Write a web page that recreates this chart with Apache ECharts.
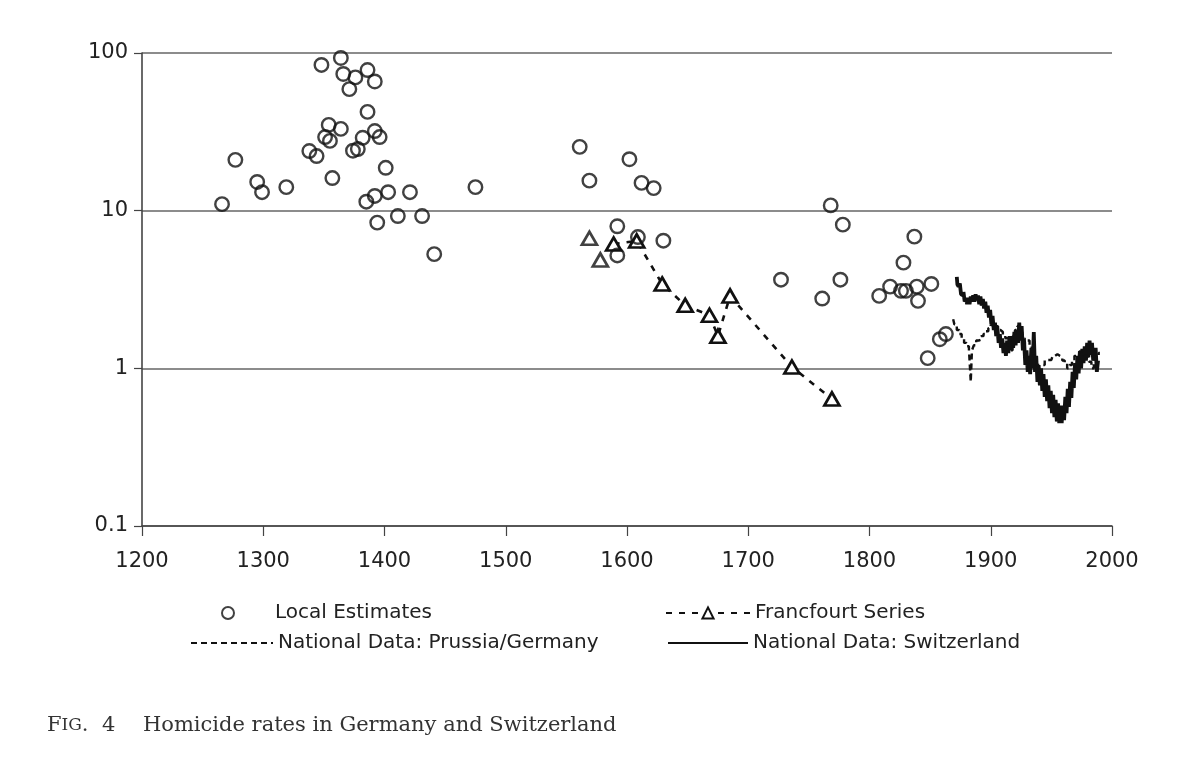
<!DOCTYPE html>
<html>
<head>
<meta charset="utf-8">
<script src="https://cdn.jsdelivr.net/npm/echarts@6/dist/echarts.min.js"></script>
<style>
  html, body { margin: 0; padding: 0; background: #fff; }
  #main { width: 1200px; height: 779px; }
</style>
</head>
<body>
<div id="main"></div>
<script>
// local estimates (year, homicides per 100,000)
var localYears = [1266, 1277, 1295, 1299, 1319, 1338, 1344, 1348, 1351, 1354, 1355, 1357, 1364, 1364, 1366, 1371,
  1374, 1376, 1378, 1382, 1385, 1386, 1386, 1392, 1392, 1392, 1394, 1396, 1401, 1403, 1411, 1421, 1431, 1441, 1475,
  1561, 1569, 1592, 1592, 1602, 1609, 1612, 1622, 1630, 1727, 1761, 1768, 1776, 1778,
  1808, 1817, 1826, 1828, 1830, 1837, 1839, 1840, 1848, 1851, 1858, 1863];
var localRates = [11.0, 21, 15.2, 13.1, 14.1, 23.9, 22.2, 84, 29.3, 35, 27.7, 16.1, 93, 33, 73.6, 59,
  24, 70, 24.6, 29, 11.4, 42.3, 78, 66, 32, 12.4, 8.4, 29.3, 18.7, 13.1, 9.25, 13.1, 9.25, 5.3, 14.1,
  25.4, 15.5, 7.96, 5.2, 21.2, 6.8, 15, 13.9, 6.45, 3.65, 2.77, 10.8, 3.65, 8.15,
  2.88, 3.3, 3.1, 4.68, 3.1, 6.84, 3.3, 2.68, 1.16, 3.43, 1.53, 1.65];

// Francfourt series: first two points stand alone, the rest are joined
var frankLooseYears = [1569, 1578];
var frankLooseRates = [6.68, 4.87];
var frankYears = [1589, 1608, 1629, 1648, 1668, 1675, 1685, 1736, 1769];
var frankRates = [6.15, 6.43, 3.43, 2.51, 2.17, 1.6, 2.88, 1.02, 0.64];

// national data
var swissYears = [1872, 1873, 1874, 1875, 1876, 1877, 1878, 1879, 1880, 1881, 1882, 1883, 1884, 1885, 1886, 1887,
  1888, 1889, 1890, 1891, 1892, 1893, 1894, 1895, 1896, 1897, 1898, 1899, 1900, 1901, 1902, 1903, 1904, 1905,
  1906, 1907, 1908, 1909, 1910, 1911, 1912, 1913, 1914, 1915, 1916, 1917, 1918, 1919, 1920, 1921, 1922, 1923,
  1924, 1925, 1926, 1927, 1928, 1929, 1930, 1931, 1932, 1933, 1934, 1935, 1936, 1937, 1938, 1939, 1940, 1941,
  1942, 1943, 1944, 1945, 1946, 1947, 1948, 1949, 1950, 1951, 1952, 1953, 1954, 1955, 1956, 1957, 1958, 1959,
  1960, 1961, 1962, 1963, 1964, 1965, 1966, 1967, 1968, 1969, 1970, 1971, 1972, 1973, 1974, 1975, 1976, 1977,
  1978, 1979, 1980, 1981, 1982, 1983, 1984, 1985, 1986, 1987, 1988, 1989];
var swissRates = [3.8, 3.4, 3.3, 3.45, 2.95, 2.9, 3.05, 2.65, 2.8, 2.55, 2.8, 2.55, 2.85, 2.65, 2.9, 2.65,
  2.95, 2.7, 2.9, 2.55, 2.85, 2.5, 2.75, 2.4, 2.65, 2.25, 2.5, 2.1, 2.35, 1.9, 2.15, 1.75, 1.95, 1.6,
  1.8, 1.45, 1.65, 1.35, 1.55, 1.25, 1.45, 1.2, 1.5, 1.25, 1.6, 1.3, 1.6, 1.35, 1.7, 1.4, 1.75, 1.45,
  1.95, 1.5, 1.85, 1.3, 1.5, 1.05, 1.3, 0.95, 1.2, 0.92, 1.35, 1.0, 1.7, 0.95, 1.2, 0.82, 1.05, 0.78,
  1.0, 0.72, 0.92, 0.66, 0.85, 0.62, 0.78, 0.56, 0.72, 0.52, 0.68, 0.49, 0.63, 0.46, 0.6, 0.45, 0.58, 0.45,
  0.58, 0.47, 0.66, 0.52, 0.74, 0.57, 0.82, 0.65, 0.95, 0.75, 1.08, 0.85, 1.2, 0.93, 1.28, 1.0, 1.33, 1.08,
  1.38, 1.12, 1.45, 1.18, 1.5, 1.22, 1.45, 1.12, 1.22, 1.35, 0.95, 1.12];

var germanYears = [1869, 1871, 1873, 1875, 1877, 1879, 1881, 1883, 1884, 1885, 1887, 1889, 1891, 1893, 1895, 1897,
  1899, 1901, 1903, 1905, 1907, 1909, 1911, 1913, 1915, 1917, 1919, 1921, 1923, 1925, 1927, 1929, 1931, 1933,
  1935, 1937, 1939, 1950, 1952, 1954, 1956, 1958, 1960, 1962, 1964, 1966, 1968, 1970, 1972, 1974, 1976, 1978,
  1980, 1982, 1984, 1986, 1988, 1990];
var germanRates = [2.05, 1.9, 1.75, 1.65, 1.55, 1.45, 1.38, 1.32, 0.82, 1.3, 1.4, 1.5, 1.52, 1.6, 1.65, 1.72,
  1.8, 1.88, 1.95, 1.85, 1.75, 1.7, 1.62, 1.55, 1.4, 1.3, 1.6, 1.75, 1.85, 1.7, 1.55, 1.45, 1.5, 1.35,
  1.2, 1.1, 1.05, 1.13, 1.2, 1.23, 1.2, 1.18, 1.12, 1.08, 1.0, 1.05, 1.12, 1.2, 1.23, 1.28, 1.25, 1.2,
  1.18, 1.1, 1.0, 1.1, 1.2, 1.25];

var yearTicks = [1200, 1300, 1400, 1500, 1600, 1700, 1800, 1900, 2000];

function pairs(xs, ys) {
  return xs.map(function (x, i) { return [x, ys[i]]; });
}

var ink = '#111';
var sans = 'DejaVu Sans';
var noMark = { color: 'rgba(0,0,0,0)', borderWidth: 0 };
var myChart = echarts.init(document.getElementById('main'), null, { renderer: 'canvas' });

var option = {
  backgroundColor: '#fff',
  animation: false,
  grid: { left: 142, right: 88, top: 53, bottom: 253, containLabel: false },
  xAxis: {
    type: 'value',
    min: yearTicks[0],
    max: yearTicks[yearTicks.length - 1],
    interval: 100,
    axisLine: { show: true, lineStyle: { color: '#444', width: 1.6 } },
    axisTick: { show: true, length: 10, lineStyle: { color: '#444', width: 1.2 } },
    axisLabel: {
      color: '#222', fontSize: 21, fontFamily: sans, margin: 25,
      formatter: function (v) { return String(v); }
    },
    splitLine: { show: false }
  },
  yAxis: {
    type: 'log',
    logBase: 10,
    min: 0.1,
    max: 100,
    axisLine: { show: true, onZero: false, lineStyle: { color: '#444', width: 1.6 } },
    axisTick: { show: true, length: 8, lineStyle: { color: '#444', width: 1.2 } },
    axisLabel: {
      color: '#222', fontSize: 21, fontFamily: sans, margin: 14,
      formatter: function (v) { return String(+(+v).toPrecision(3)); }
    },
    splitLine: { show: true, lineStyle: { color: '#666', width: 1.5 } },
    minorTick: { show: false },
    minorSplitLine: { show: false }
  },
  legend: [
    {
      data: ['Local Estimates'], left: 216, top: 598,
      itemWidth: 12, itemHeight: 12,
      textStyle: { color: '#222', fontSize: 20, fontFamily: sans, padding: [0, 0, 0, 36] }
    },
    {
      data: ['Francfourt Series'], left: 660, top: 598,
      itemWidth: 84, itemHeight: 14,
      textStyle: { color: '#222', fontSize: 20, fontFamily: sans }
    },
    {
      data: [{ name: 'National Data: Prussia/Germany', itemStyle: noMark }], left: 185, top: 628,
      itemWidth: 82, itemHeight: 14,
      textStyle: { color: '#222', fontSize: 20, fontFamily: sans }
    },
    {
      data: [{ name: 'National Data: Switzerland', itemStyle: noMark }], left: 662, top: 628,
      itemWidth: 80, itemHeight: 14,
      textStyle: { color: '#222', fontSize: 20, fontFamily: sans }
    }
  ],
  series: [
    {
      name: 'National Data: Switzerland',
      type: 'line',
      step: 'middle',
      symbol: 'none',
      data: pairs(swissYears, swissRates),
      lineStyle: { color: ink, width: 3.8, type: 'solid' },
      itemStyle: { color: ink },
      z: 3
    },
    {
      name: 'National Data: Prussia/Germany',
      type: 'line',
      step: 'middle',
      symbol: 'none',
      data: pairs(germanYears, germanRates),
      lineStyle: { color: ink, width: 2.4, type: [6, 4] },
      itemStyle: { color: ink },
      z: 3
    },
    {
      name: 'Francfourt Series',
      type: 'line',
      data: pairs(frankYears, frankRates),
      symbol: 'triangle',
      symbolSize: [15, 13],
      showAllSymbol: true,
      lineStyle: { color: ink, width: 2.6, type: [6, 7] },
      itemStyle: { color: '#fff', borderColor: ink, borderWidth: 2.7 },
      z: 4
    },
    {
      name: 'Francfourt Series',
      type: 'scatter',
      data: pairs(frankLooseYears, frankLooseRates),
      symbol: 'triangle',
      symbolSize: [15, 13],
      itemStyle: { color: '#fff', borderColor: ink, borderWidth: 2.7 },
      z: 4
    },
    {
      name: 'Local Estimates',
      type: 'scatter',
      data: pairs(localYears, localRates),
      symbol: 'circle',
      symbolSize: 13.5,
      itemStyle: { color: 'rgba(255,255,255,0)', borderColor: ink, borderWidth: 2.4 },
      z: 5
    }
  ],
  graphic: [
    {
      type: 'text', left: 47, top: 715,
      style: {
        text: '{a|F}{b|IG}{c|.  4}',
        rich: {
          a: { fontSize: 21, fontFamily: 'DejaVu Serif', fill: '#333' },
          b: { fontSize: 17, fontFamily: 'DejaVu Serif', fill: '#333' },
          c: { fontSize: 21, fontFamily: 'DejaVu Serif', fill: '#333' }
        }
      }
    },
    {
      type: 'text', left: 143, top: 715,
      style: {
        text: 'Homicide rates in Germany and Switzerland',
        fontSize: 21, fontFamily: 'DejaVu Serif', fill: '#333'
      }
    }
  ]
};

myChart.setOption(option);
</script>
</body>
</html>
